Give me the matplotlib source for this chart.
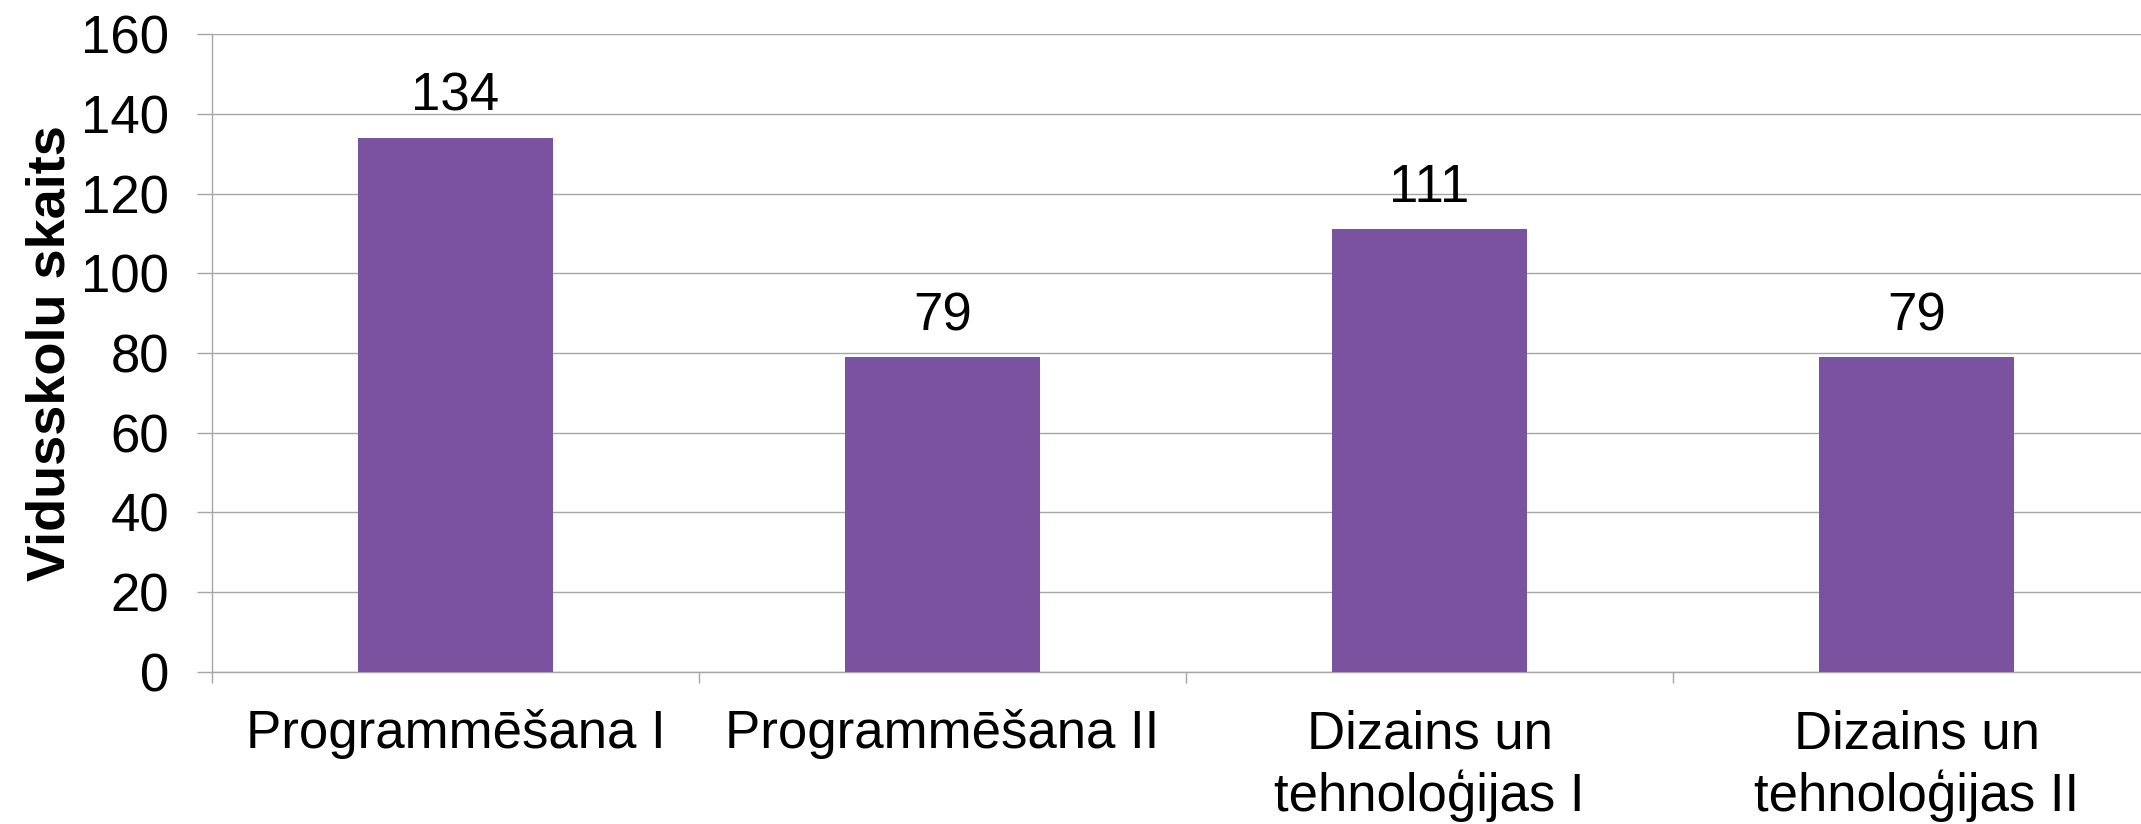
import numpy as np
import matplotlib
matplotlib.use('Agg')
import matplotlib.pyplot as plt
from matplotlib.ticker import FixedLocator

plt.rcParams['font.family'] = ['Liberation Sans', 'DejaVu Sans']

#-chart data
categories = ['Programmēšana I', 'Programmēšana II',
              'Dizains un\ntehnoloģijas I', 'Dizains un\ntehnoloģijas II']
counts = [134, 79, 111, 79]
yticks = [0, 20, 40, 60, 80, 100, 120, 140, 160]
ylabel = 'Vidusskolu skaits'

barColor = '#7B52A0'
gridColor = '#A6A6A6'
fs = 38

fig = plt.figure(figsize=(21.41, 8.24), dpi=100)
#-axes run slightly past the right edge, like the cropped original
ax = fig.add_axes([0.099, 0.1845, 0.91, 0.7742])

x = np.arange(len(categories))
bars = ax.bar(x, counts, width=0.4, color=barColor, zorder=3)

for b, v in zip(bars, counts):
    ax.text(b.get_x() + b.get_width() / 2, v + 4, str(v), ha='center', va='bottom',
            fontsize=fs, color='black')

ax.set_xlim(-0.5, len(categories) - 0.5)
ax.set_ylim(0, 160)
ax.set_yticks(yticks)
ax.yaxis.grid(True, color=gridColor, linewidth=1.0, zorder=0)
ax.set_axisbelow(True)

ax.set_xticks(x)
ax.set_xticklabels(categories, fontsize=fs, linespacing=1.25)
ax.xaxis.set_minor_locator(FixedLocator(np.arange(-0.5, len(categories), 1.0)))
ax.tick_params(axis='x', which='major', length=0, pad=27)
ax.tick_params(axis='x', which='minor', length=8, width=1.0, color=gridColor)
ax.tick_params(axis='y', length=11, width=1.0, color=gridColor, pad=20, labelsize=fs)

ax.set_ylabel(ylabel, fontsize=39, fontweight='bold', labelpad=4)

for s in ['top', 'right']:
    ax.spines[s].set_visible(False)
for s in ['left', 'bottom']:
    ax.spines[s].set_color(gridColor)
    ax.spines[s].set_linewidth(1.0)

fig.savefig('out.png', dpi=100)
